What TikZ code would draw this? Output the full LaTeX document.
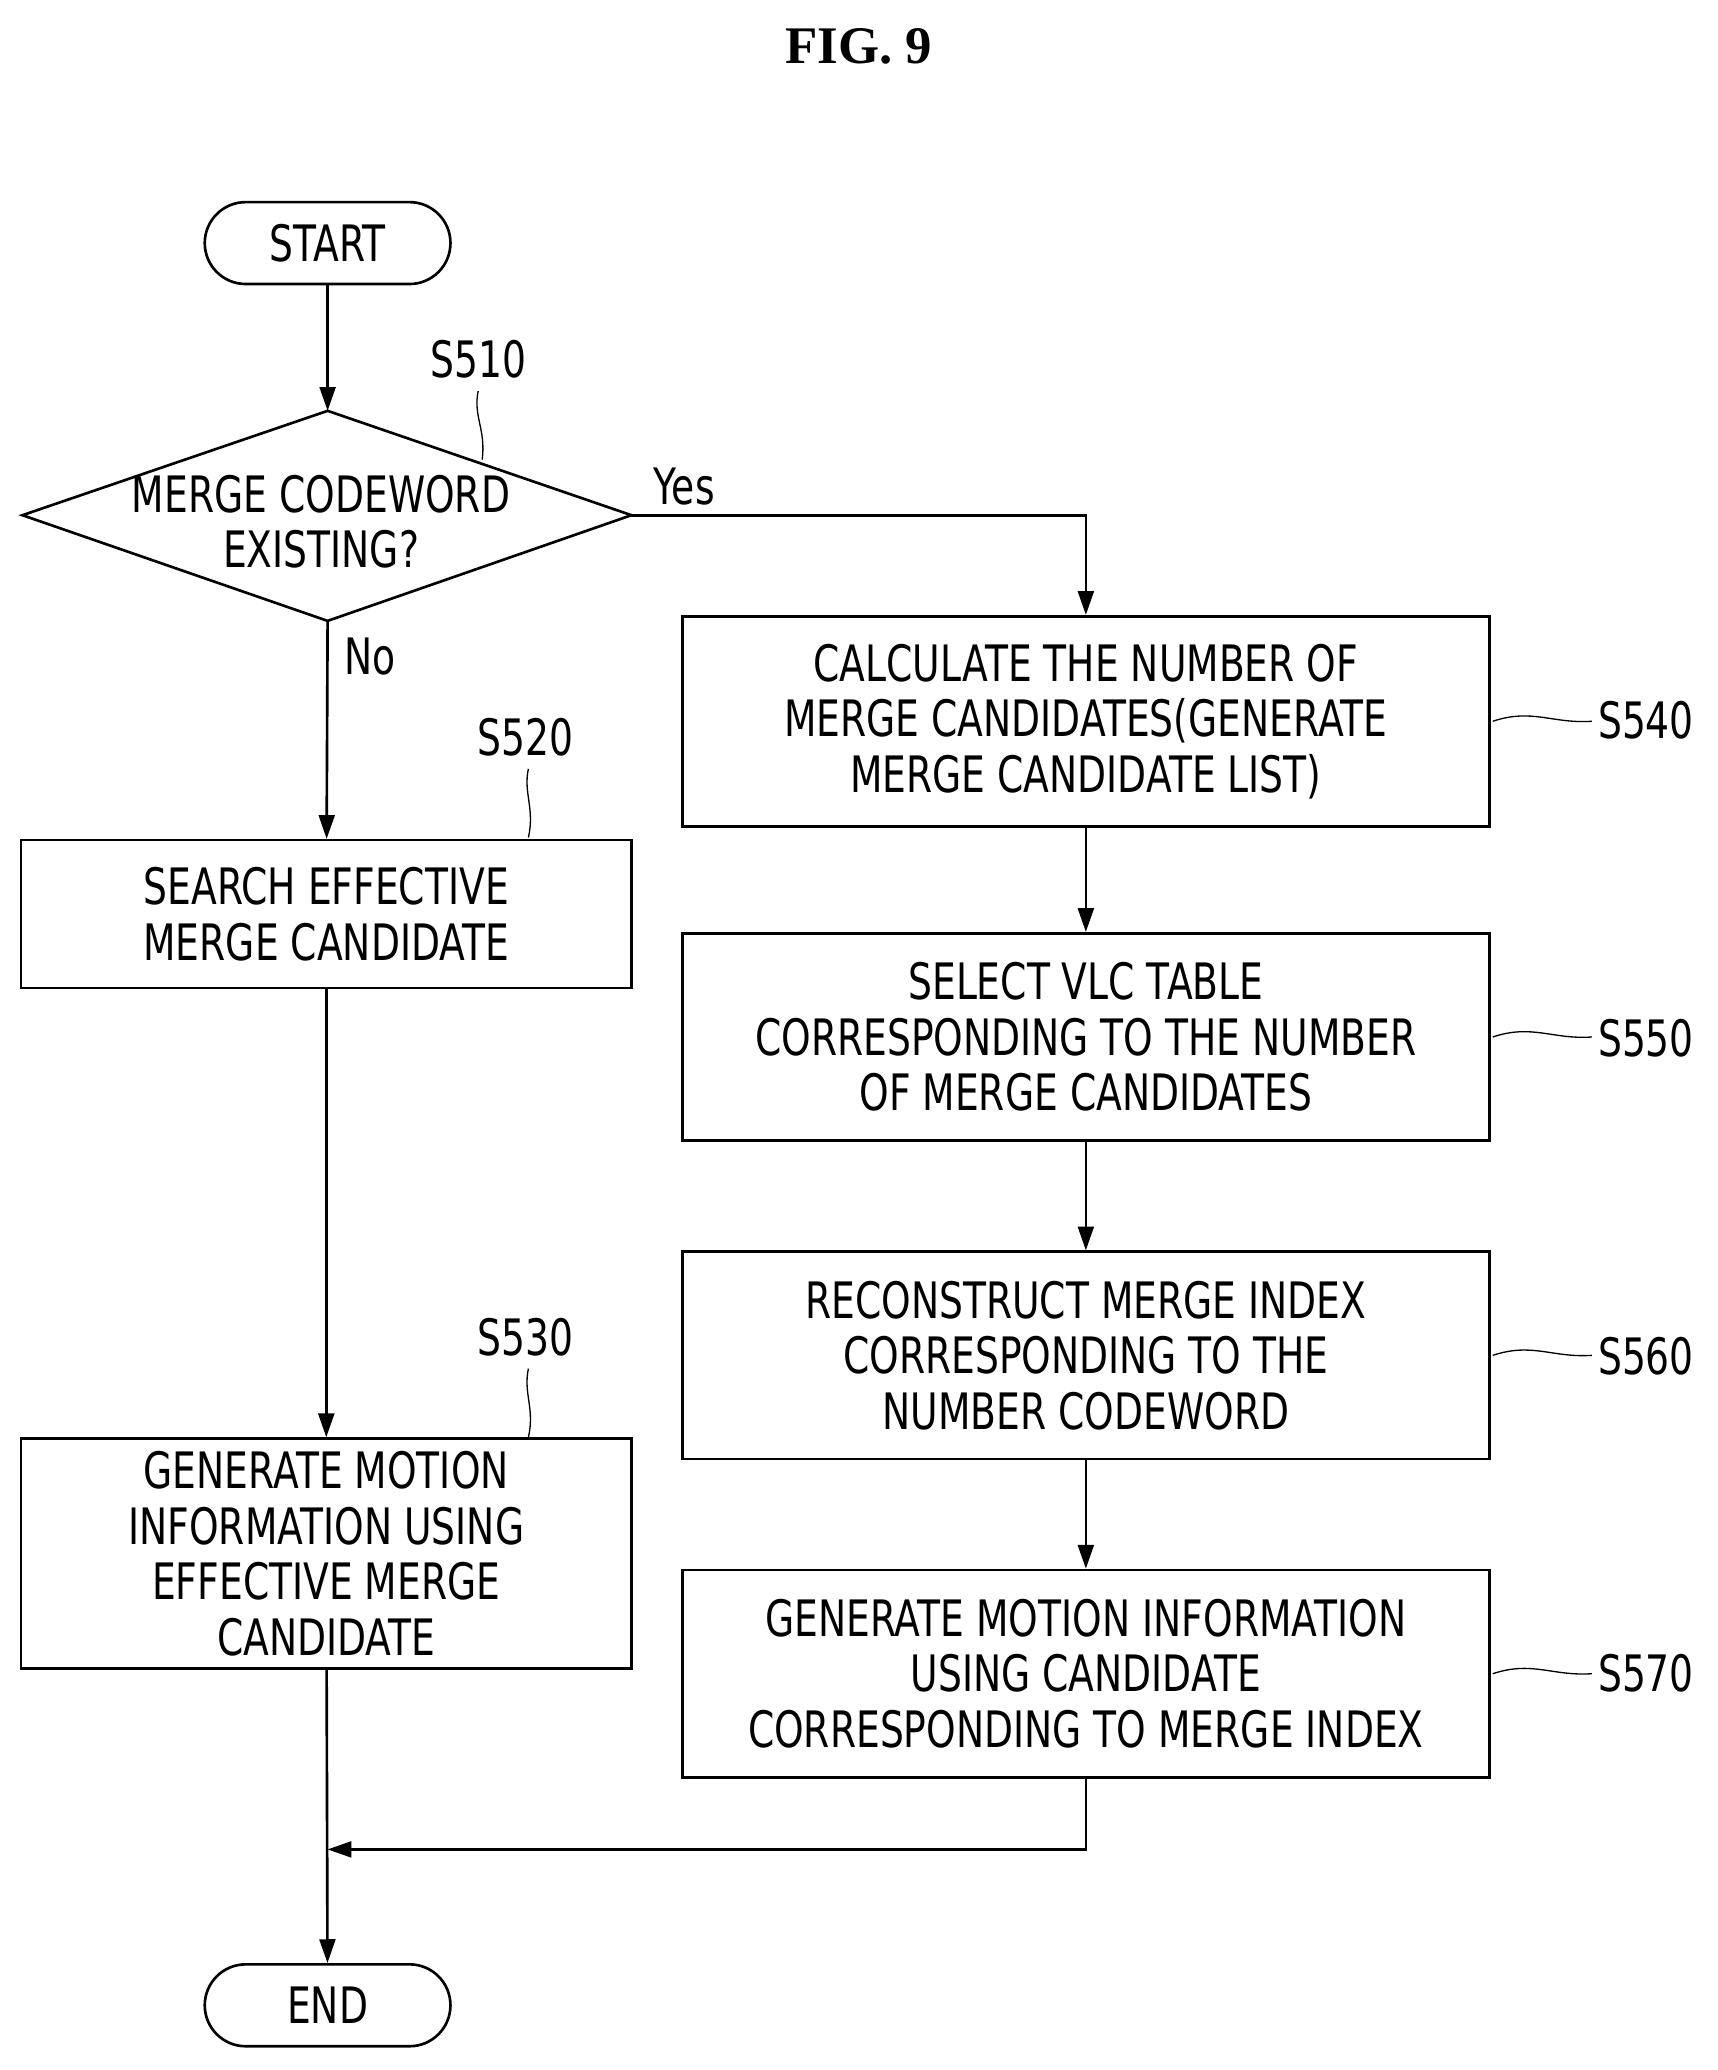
\documentclass[tikz,border=0pt]{standalone}
\usepackage{fontspec}
\setmainfont{DejaVu Sans}[FakeStretch=0.75]
\newfontfamily\titlefont{Liberation Serif}
\usetikzlibrary{arrows.meta}
\begin{document}
\begin{tikzpicture}[x=1pt,y=-1pt,
  box/.style={draw,line width=2pt,align=center,inner sep=0pt,font=\fontsize{38}{42}\selectfont},
  lbl/.style={font=\fontsize{38}{42}\selectfont},
  arr/.style={line width=2pt,-{Triangle[length=18pt,width=12pt]}},
  ln/.style={line width=2pt},
  lead/.style={line width=1pt}]
\useasboundingbox (0,0) rectangle (1300,1567);
\node[font=\titlefont\bfseries\fontsize{40}{44}\selectfont] (title) at (650,35) {FIG. 9};
\node[box,rounded corners=31pt,minimum width=186pt,minimum height=62pt] (start) at (248,184) {START};
\coordinate (dc) at (248,390);
\draw[ln] (17,390) coordinate (dl) -- (248,311) coordinate (dt) -- (478,390) coordinate (dr) -- (248,470) coordinate (db) -- cycle;
\node[lbl,align=center] (dtext) at (243,395) {MERGE CODEWORD\\EXISTING?};
\node[box,minimum width=462pt,minimum height=112pt] (s520) at (247,692) {SEARCH EFFECTIVE\\MERGE CANDIDATE};
\node[box,minimum width=462pt,minimum height=174pt] (s530) at (247,1176) {GENERATE MOTION\\INFORMATION USING\\EFFECTIVE MERGE\\CANDIDATE};
\node[box,minimum width=611pt,minimum height=159pt] (s540) at (822,546) {CALCULATE THE NUMBER OF\\MERGE CANDIDATES(GENERATE\\MERGE CANDIDATE LIST)};
\node[box,minimum width=611pt,minimum height=157pt] (s550) at (822,785) {SELECT VLC TABLE\\CORRESPONDING TO THE NUMBER\\OF MERGE CANDIDATES};
\node[box,minimum width=611pt,minimum height=157pt] (s560) at (822,1026) {RECONSTRUCT MERGE INDEX\\CORRESPONDING TO THE\\NUMBER CODEWORD};
\node[box,minimum width=611pt,minimum height=157pt] (s570) at (822,1267) {GENERATE MOTION INFORMATION\\USING CANDIDATE\\CORRESPONDING TO MERGE INDEX};
\node[box,rounded corners=31pt,minimum width=186pt,minimum height=62pt] (end) at (248,1518) {END};
\node[lbl] (yes) at (518,368) {Yes};
\node[lbl] (no) at (280,497) {No};
\node[lbl] (l510) at (362,272) {S510};
\node[lbl] (l520) at (398,558) {S520};
\node[lbl] (l530) at (398,1012) {S530};
\node[lbl] (l540) at (1246,545) {S540};
\node[lbl] (l550) at (1246,786) {S550};
\node[lbl] (l560) at (1246,1027) {S560};
\node[lbl] (l570) at (1246,1267) {S570};
% leaders
\draw[lead] (362,296) .. controls (358,315) and (368,325) .. (365,348);
\draw[lead] (400,582) .. controls (396,600) and (405,612) .. (400,634);
\draw[lead] (400,1036) .. controls (396,1055) and (405,1066) .. (400,1088);
\foreach \n/\y in {540/546,550/785,560/1026,570/1267}{
  \draw[lead] (1130,\y) .. controls (1160,\y-10) and (1175,\y+2) .. (1205,\y);}
% connectors
\draw[arr] (start) -- (dt);
\draw[arr] (db) -- (s520);
\draw[arr] (s520) -- (s530);
\draw[arr] (dr) -| (s540);
\draw[arr] (s540) -- (s550);
\draw[arr] (s550) -- (s560);
\draw[arr] (s560) -- (s570);
\coordinate (m) at (248,1400);
\draw[arr] (s570.south) |- (m);
\draw[arr] (s530) -- (end);
\end{tikzpicture}
\end{document}
